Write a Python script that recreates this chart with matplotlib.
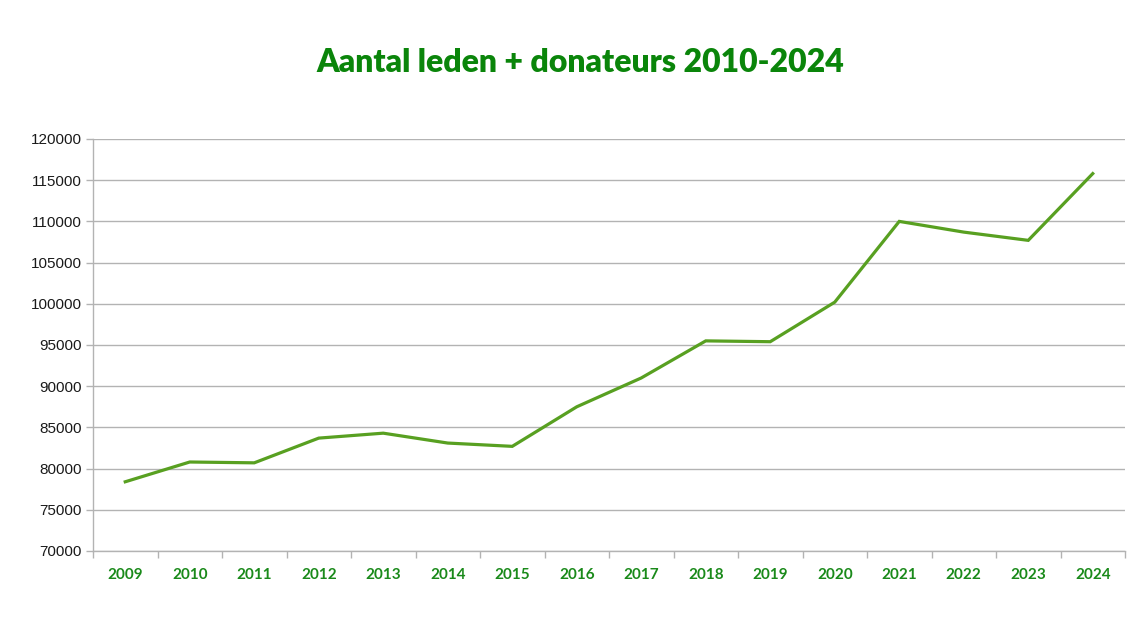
import matplotlib
matplotlib.use("Agg")
import matplotlib.pyplot as plt
import numpy as np

years = ["2009", "2010", "2011", "2012", "2013", "2014", "2015", "2016",
         "2017", "2018", "2019", "2020", "2021", "2022", "2023", "2024"]
members = [78400, 80800, 80700, 83700, 84300, 83100, 82700, 87500,
           91000, 95500, 95400, 100200, 110000, 108700, 107700, 115800]
title = "Aantal leden + donateurs 2010-2024"

fig = plt.figure(figsize=(11.46, 6.25), dpi=100)
ax = fig.add_axes([93/1146, 1-551/625, (1125-93)/1146, (551-139)/625])

x = np.arange(len(years))
ax.plot(x, members, color="#58a021", linewidth=2.3, solid_joinstyle="miter", zorder=3)

ax.set_xlim(-0.5, len(years)-0.5)
ax.set_ylim(70000, 120000)
ax.set_yticks(np.arange(70000, 120001, 5000))
ax.yaxis.grid(True, color="#b3b3b3", linewidth=1.0)
ax.set_axisbelow(True)

ax.set_xticks(x)
ax.set_xticklabels(years, fontfamily="Lato", fontweight="bold", fontsize=11, color="#1a8a1a")
ax.set_xticks(np.arange(-0.5, len(years), 1), minor=True)
ax.tick_params(axis="x", which="major", length=0, pad=12)
ax.tick_params(axis="x", which="minor", length=5, color="#b3b3b3", width=1)
ax.tick_params(axis="y", length=5, color="#b3b3b3", width=1, pad=3, labelsize=11)
for lab in ax.get_yticklabels():
    lab.set_fontfamily("Liberation Sans")
    lab.set_color("#1a1a1a")

for s in ["top", "right"]:
    ax.spines[s].set_visible(False)
ax.spines["left"].set_color("#b3b3b3")
ax.spines["bottom"].set_color("#b3b3b3")
ax.spines["left"].set_linewidth(1)
ax.spines["bottom"].set_linewidth(1)

fig.text(580/1146, 1-63/625, title, ha="center", va="center",
         fontfamily="Lato", fontweight="heavy", fontsize=23, color="#0a850a")

fig.savefig("out.png", dpi=100)
